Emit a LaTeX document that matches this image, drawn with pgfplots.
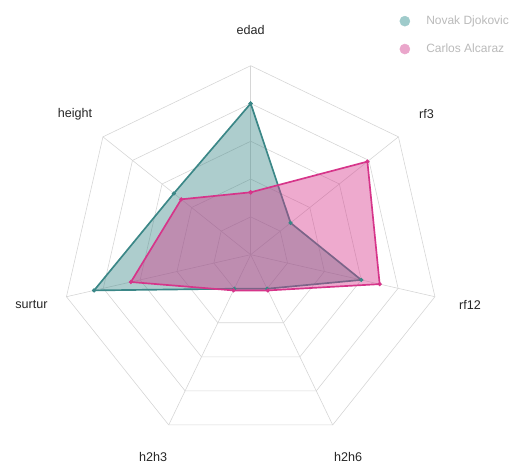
\documentclass[border=0pt]{standalone}
\usepackage{pgfplots}
\pgfplotsset{compat=1.18}
\usepackage{fontspec}
\setmainfont{Liberation Sans}
\definecolor{tealL}{HTML}{3B8787}
\definecolor{pinkL}{HTML}{D6358A}
\definecolor{tealM}{HTML}{9FCBCB}
\definecolor{pinkM}{HTML}{EAA6CB}
\definecolor{gridc}{HTML}{D6D6D6}
\begin{document}
\begin{tikzpicture}
\begin{axis}[
  name=ax,
  x=157.6pt, y=157.6pt,
  xmin=-1.3265, xmax=1.388, ymin=-1.118, ymax=1.3476,
  hide axis, clip=false,
  legend style={at={(axis cs:0.74,1.29)}, anchor=north west, draw=none, fill=none,
    font=\fontsize{10}{12}\selectfont\color{black!27}, row sep=10.5pt},
  legend cell align=left,
]
% grid rings
\pgfplotsinvokeforeach{0.2,0.4,0.6,0.8,1.0}{
  \addplot[gridc, line width=0.5pt, data cs=polar, forget plot] coordinates {(90,#1) (38.5714,#1) (-12.8571,#1) (-64.2857,#1) (-115.7143,#1) (-167.1429,#1) (141.4286,#1) (90,#1)};
}
% spokes
\pgfplotsinvokeforeach{90,38.5714,-12.8571,-64.2857,-115.7143,-167.1429,141.4286}{
  \addplot[gridc, line width=0.5pt, data cs=polar, forget plot] coordinates {(#1,0) (#1,1)};
}
% Novak Djokovic
\addplot[tealL, line width=1.4pt, fill=tealL, fill opacity=0.42, draw opacity=1, data cs=polar, mark=*, mark size=0.9pt, forget plot] coordinates {
 (90,0.80) (38.5714,0.27) (-12.8571,0.60) (-64.2857,0.20) (-115.7143,0.20) (-167.1429,0.85) (141.4286,0.52) (90,0.80)};
% Carlos Alcaraz
\addplot[pinkL, line width=1.4pt, fill=pinkL, fill opacity=0.42, draw opacity=1, data cs=polar, mark=*, mark size=0.9pt, forget plot] coordinates {
 (90,0.33) (38.5714,0.79) (-12.8571,0.70) (-64.2857,0.21) (-115.7143,0.21) (-167.1429,0.65) (141.4286,0.47) (90,0.33)};
% legend
\addlegendimage{legend image code/.code={\fill[tealM] (0.3cm,0) circle (4.2pt); \path (0,0) (0.85cm,0);}}
\addlegendentry{Novak Djokovic}
\addlegendimage{legend image code/.code={\fill[pinkM] (0.3cm,0) circle (4.2pt); \path (0,0) (0.85cm,0);}}
\addlegendentry{Carlos Alcaraz}
% labels
\begin{scope}[every node/.style={font=\fontsize{10.5}{12}\selectfont, text=black!85}]
\node at (axis cs:0,1.19) {edad};
\node at (axis cs:0.930,0.742) {rf3};
\node at (axis cs:1.160,-0.265) {rf12};
\node at (axis cs:0.516,-1.072) {h2h6};
\node at (axis cs:-0.516,-1.072) {h2h3};
\node at (axis cs:-1.160,-0.265) {surtur};
\node at (axis cs:-0.930,0.742) {height};
\end{scope}
\end{axis}
\pgfresetboundingbox
\path (ax.south west) rectangle (ax.north east);
\end{tikzpicture}
\end{document}
